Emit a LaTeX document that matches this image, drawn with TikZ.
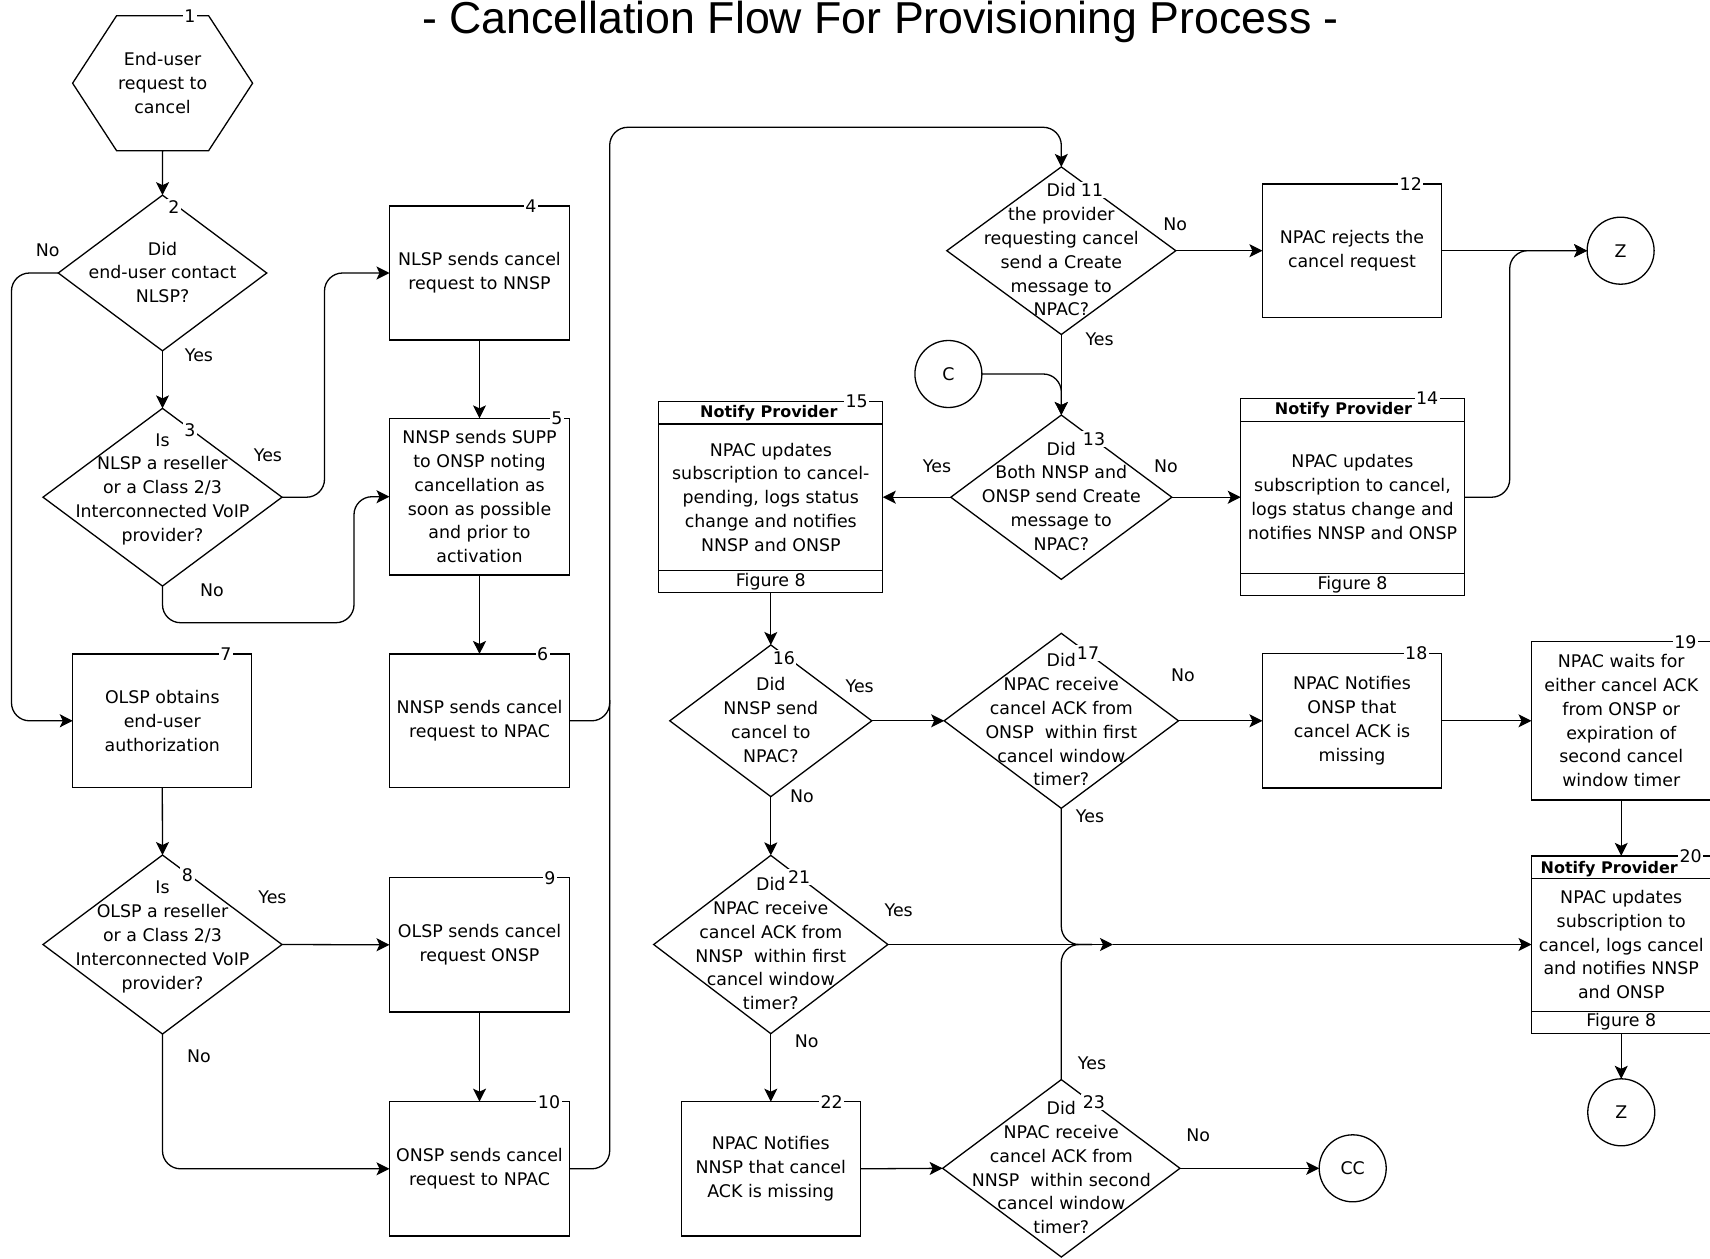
\documentclass[tikz,border=0pt]{standalone}
\usepackage{fontspec}
\setmainfont{DejaVu Sans}
\newfontfamily\titlefont{Liberation Sans}
\usetikzlibrary{shapes.geometric,arrows.meta,calc}
\newcommand\mytxt{\fontsize{17.4pt}{23.8pt}\selectfont}
\newcommand\myhdr{\fontsize{16pt}{20pt}\selectfont\bfseries}
\begin{document}
\begin{tikzpicture}[x=1pt,y=-1pt,
  box/.style={draw, rectangle, align=center, inner sep=0pt, outer sep=0pt, line width=1.3pt, font=\mytxt},
  dia/.style={draw, diamond, inner sep=0pt, outer sep=0pt, line width=1.3pt},
  dtxt/.style={align=center, font=\mytxt, inner sep=0pt},
  num/.style={fill=white, inner sep=1.5pt, font=\mytxt},
  yn/.style={font=\mytxt, inner sep=0pt},
  conn/.style={draw, circle, inner sep=0pt, outer sep=0pt, minimum size=67pt, line width=1.3pt, font=\mytxt},
  arr/.style={-{Stealth[length=13pt,width=13pt,inset=3pt]}, line width=1.3pt, rounded corners=18pt},
  ln/.style={line width=1.3pt, rounded corners=18pt},
  hdr/.style={font=\myhdr, inner sep=0pt},
  ftr/.style={font=\mytxt, inner sep=0pt},
  sep/.style={line width=1.3pt},
]
\useasboundingbox (0,0) rectangle (1710,1258);
\clip (0,0) rectangle (1710,1258);
\fill[white] (0,0) rectangle (1710,1258);

% title
\node[anchor=base, font=\titlefont\fontsize{44.7pt}{50pt}\selectfont, inner sep=0pt] (title) at (880.5,33.3) {- Cancellation Flow For Provisioning Process -};

% 1 hexagon
\node[align=center, font=\mytxt, minimum width=180pt, minimum height=135pt, inner sep=0pt, outer sep=0pt] (n1) at (162.6,83.2) {End-user\\request to\\cancel};
\draw[line width=1.3pt] (n1.west) -- ($(n1.north west)+(44,0)$) -- ($(n1.north east)+(-44,0)$) -- (n1.east) -- ($(n1.south east)+(-44,0)$) -- ($(n1.south west)+(44,0)$) -- cycle;

% diamonds
\node[dia, minimum width=208.5pt, minimum height=155.7pt] (d2) at (162.5,273) {};
\node[dia, minimum width=239pt, minimum height=177.7pt] (d3) at (162.5,497.2) {};
\node[dia, minimum width=239pt, minimum height=179pt] (d8) at (162.5,944.5) {};
\node[dia, minimum width=229pt, minimum height=167.6pt] (d11) at (1061.3,250.7) {};
\node[dia, minimum width=221pt, minimum height=164.3pt] (d13) at (1061.3,497.2) {};
\node[dia, minimum width=202pt, minimum height=151.7pt] (d16) at (770.8,720.8) {};
\node[dia, minimum width=234.3pt, minimum height=175pt] (d17) at (1061.3,720.8) {};
\node[dia, minimum width=234.2pt, minimum height=178.3pt] (d21) at (770.8,944.5) {};
\node[dia, minimum width=237.3pt, minimum height=177.4pt] (d23) at (1061.3,1168.3) {};

% boxes
\node[box, minimum width=180pt, minimum height=134pt] (n4) at (479.5,273) {NLSP sends cancel\\request to NNSP};
\node[box, minimum width=180pt, minimum height=156.7pt] (n5) at (479.5,496.7) {NNSP sends SUPP\\to ONSP noting\\cancellation as\\soon as possible\\and prior to\\activation};
\node[box, minimum width=180pt, minimum height=133.7pt] (n6) at (479.5,720.8) {NNSP sends cancel\\request to NPAC};
\node[box, minimum width=179pt, minimum height=133.7pt] (n7) at (162.3,720.8) {OLSP obtains\\end-user\\authorization};
\node[box, minimum width=180pt, minimum height=134.3pt] (n9) at (479.5,944.8) {OLSP sends cancel\\request ONSP};
\node[box, minimum width=180pt, minimum height=134.3pt] (n10) at (479.5,1168.8) {ONSP sends cancel\\request to NPAC};
\node[box, minimum width=179.2pt, minimum height=133.7pt] (n12) at (1352,250.7) {NPAC rejects the\\cancel request};
\node[box, minimum width=223.5pt, minimum height=197pt] (n14) at (1352.5,497.2) {NPAC updates\\subscription to cancel,\\logs status change and\\notifies NNSP and ONSP};
\node[box, minimum width=224pt, minimum height=191pt] (n15) at (770.8,497.2) {NPAC updates\\subscription to cancel-\\pending, logs status\\change and notifies\\NNSP and ONSP};
\node[box, minimum width=179.2pt, minimum height=134.4pt] (n18) at (1352,720.8) {NPAC Notifies\\ONSP that\\cancel ACK is\\missing};
\node[box, minimum width=179.5pt, minimum height=158.3pt] (n19) at (1621.25,720.8) {NPAC waits for\\either cancel ACK\\from ONSP or\\expiration of\\second cancel\\window timer};
\node[box, minimum width=179.5pt, minimum height=177.3pt] (n20) at (1621.25,944.5) {NPAC updates\\subscription to\\cancel, logs cancel\\and notifies NNSP\\and ONSP};
\node[box, minimum width=179pt, minimum height=134.3pt] (n22) at (770.8,1168.8) {NPAC Notifies\\NNSP that cancel\\ACK is missing};

% header / footer bands
\draw[sep] ($(n14.north west)+(0,22.7)$) -- ($(n14.north east)+(0,22.7)$);
\draw[sep] ($(n14.south west)+(0,-22.3)$) -- ($(n14.south east)+(0,-22.3)$);
\node[hdr] (n14h) at ($(n14.north)+(-9,11.8)$) {Notify Provider};
\node[ftr] (n14f) at ($(n14.south)+(0,-11)$) {Figure 8};
\draw[sep] ($(n15.north west)+(0,22.3)$) -- ($(n15.north east)+(0,22.3)$);
\draw[sep] ($(n15.south west)+(0,-22)$) -- ($(n15.south east)+(0,-22)$);
\node[hdr] (n15h) at ($(n15.north)+(-2,11.6)$) {Notify Provider};
\node[ftr] (n15f) at ($(n15.south)+(0,-11)$) {Figure 8};
\draw[sep] ($(n20.north west)+(0,22.3)$) -- ($(n20.north east)+(0,22.3)$);
\draw[sep] ($(n20.south west)+(0,-21.6)$) -- ($(n20.south east)+(0,-21.6)$);
\node[hdr] (n20h) at ($(n20.north)+(-12,13)$) {Notify Provider};
\node[ftr] (n20f) at ($(n20.south)+(0,-11)$) {Figure 8};

% connector circles
\node[conn] (Z1) at (1620.6,250.7) {Z};
\node[conn] (C) at (948.4,374) {C};
\node[conn] (Z2) at (1621.25,1112.3) {Z};
\node[conn] (CC) at (1352.7,1168.3) {CC};

% connectors
\draw[arr] (n1.south) -- (d2.north);
\draw[arr] (d2.west) -| (11.5,720.8) -- (n7.west);
\draw[arr] (d2.south) -- (d3.north);
\draw[arr] (d3.east) -| (324.5,273) -- (n4.west);
\draw[arr] (n4.south) -- (n5.north);
\draw[arr] (d3.south) |- (354,622.7) |- (n5.west);
\draw[arr] (n5.south) -- (n6.north);
\draw[arr] (n6.east) -| (609.7,127.3) -| (d11.north);
\draw[ln] (n10.east) -| (609.7,700);
\draw[arr] (n7.south) -- (d8.north);
\draw[arr] (d8.east) -- (n9.west);
\draw[arr] (n9.south) -- (n10.north);
\draw[arr] (d8.south) |- (n10.west);
\draw[arr] (d11.east) -- (n12.west);
\draw[arr] (n12.east) -- (Z1.west);
\draw[arr] (n14.east) -| (1509.7,250.7) -- (Z1.west);
\draw[arr] (d11.south) -- (d13.north);
\draw[arr] (C.east) -| (d13.north);
\draw[arr] (d13.west) -- (n15.east);
\draw[arr] (d13.east) -- (n14.west);
\draw[arr] (n15.south) -- (d16.north);
\draw[arr] (d16.east) -- (d17.west);
\draw[arr] (d17.east) -- (n18.west);
\draw[arr] (n18.east) -- (n19.west);
\draw[arr] (n19.south) -- (n20.north);
\draw[arr] (n20.south) -- (Z2.north);
\draw[arr] (d16.south) -- (d21.north);
\coordinate (mid) at (1113,944.5);
\coordinate (mrg) at (1092,944.5);
\draw[arr] (d21.east) -- (mid);
\draw[arr] (mid) -- (n20.west);
\draw[ln] (d17.south) |- (mrg);
\draw[ln] (d23.north) |- (mrg);
\draw[arr] (d21.south) -- (n22.north);
\draw[arr] (n22.east) -- (d23.west);
\draw[arr] (d23.east) -- (CC.west);

% yes / no labels
\node[yn] (y2n) at (47.8,250) {No};
\node[yn] (y2y) at (199,355) {Yes};
\node[yn] (y3y) at (268,455) {Yes};
\node[yn] (y3n) at (212,590) {No};
\node[yn] (y8y) at (272.5,897.3) {Yes};
\node[yn] (y8n) at (199,1056.7) {No};
\node[yn] (y11n) at (1175.3,224) {No};
\node[yn] (y11y) at (1099.6,339.3) {Yes};
\node[yn] (y13y) at (937,466.7) {Yes};
\node[yn] (y13n) at (1166,466.7) {No};
\node[yn] (y16y) at (859.7,686) {Yes};
\node[yn] (y16n) at (802,796.7) {No};
\node[yn] (y17n) at (1182.9,675) {No};
\node[yn] (y17y) at (1090,816.7) {Yes};
\node[yn] (y21y) at (898.7,910) {Yes};
\node[yn] (y21n) at (806.8,1041.7) {No};
\node[yn] (y23y) at (1092,1063.3) {Yes};
\node[yn] (y23n) at (1198.2,1135) {No};

% step numbers
\node[num] (l1) at (190,15.7) {1};
\node[num] (l2) at (174,206.7) {2};
\node[num] (l3) at (190,430) {3};
\node[num] (l4) at (531,206) {4};
\node[num] (l5) at (557,418.3) {5};
\node[num] (l6) at (542.7,654) {6};
\node[num] (l7) at (225.8,654) {7};
\node[num] (l8) at (187.5,875) {8};
\node[num] (l9) at (550,877.7) {9};
\node[num] (l10) at (549,1101.7) {10};
\node[num] (l11) at (1092,190) {11};
\node[num] (l12) at (1410.8,184) {12};
\node[num] (l13) at (1094,439.3) {13};
\node[num] (l14) at (1427.2,398.3) {14};
\node[num] (l15) at (856.6,401.7) {15};
\node[num] (l16) at (783.9,658.3) {16};
\node[num] (l17) at (1088,653.3) {17};
\node[num] (l18) at (1416.3,653.3) {18};
\node[num] (l19) at (1685.3,641.7) {19};
\node[num] (l20) at (1690.7,856) {20};
\node[num] (l21) at (799.2,877.3) {21};
\node[num] (l22) at (831.7,1101.7) {22};
\node[num] (l23) at (1093.9,1101.7) {23};

% diamond texts
\node[dtxt] (d2t) at (162.5,272.5) {Did\\end-user contact\\NLSP?};
\node[dtxt] (d3t) at (162.5,489.2) {Is\\NLSP a reseller\\or a Class 2/3\\Interconnected VoIP\\provider?};
\node[dtxt] (d8t) at (162.5,937) {Is\\OLSP a reseller\\or a Class 2/3\\Interconnected VoIP\\provider?};
\node[dtxt] (d11t) at (1061.3,250) {Did\\the provider\\requesting cancel\\send a Create\\message to\\NPAC?};
\node[dtxt] (d13t) at (1061.3,496.2) {Did\\Both NNSP and\\ONSP send Create\\message to\\NPAC?};
\node[dtxt] (d16t) at (770.8,720) {Did\\NNSP send\\cancel to\\NPAC?};
\node[dtxt] (d17t) at (1061.3,720) {Did\\NPAC receive\\cancel ACK from\\ONSP\ \ within first\\cancel window\\timer?};
\node[dtxt] (d21t) at (770.8,943.7) {Did\\NPAC receive\\cancel ACK from\\NNSP\ \ within first\\cancel window\\timer?};
\node[dtxt] (d23t) at (1061.3,1167.7) {Did\\NPAC receive\\cancel ACK from\\NNSP\ \ within second\\cancel window\\timer?};
\end{tikzpicture}
\end{document}
